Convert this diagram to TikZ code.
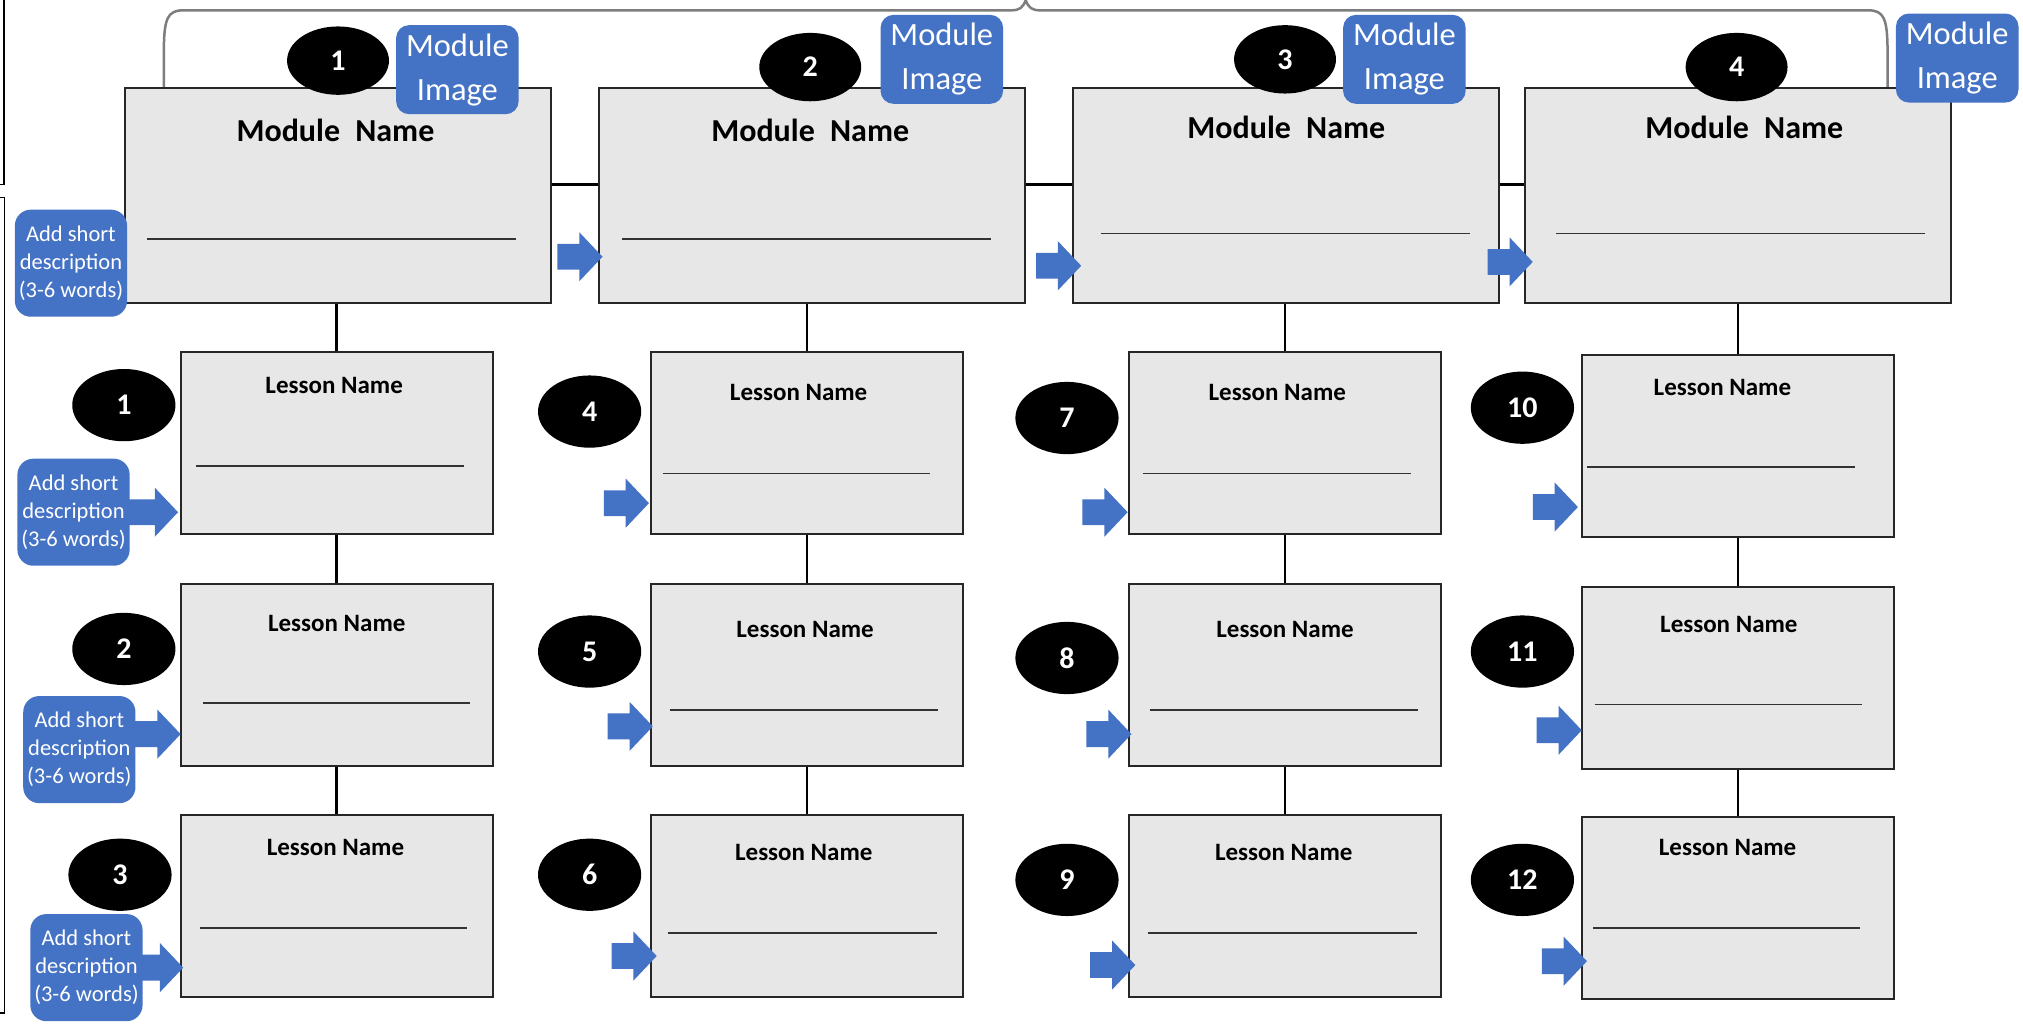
\documentclass[tikz,border=0pt]{standalone}
\usepackage{fontspec}
\setmainfont{Carlito}
\usetikzlibrary{shapes.geometric,calc}
\definecolor{officeblue}{RGB}{68,114,196}
\definecolor{boxgray}{RGB}{231,231,231}
\definecolor{bracegray}{RGB}{125,125,125}
\def\unitpx{1.29pt}
\tikzset{
  modbox/.style={rectangle, draw=black!85, line width=2pt, fill=boxgray, minimum width=330*\unitpx, minimum height=167*\unitpx, inner sep=0pt},
  lesbox/.style={modbox, minimum width=242*\unitpx, minimum height=141*\unitpx},
  numell/.style={ellipse, fill=black, text=white, font=\fontsize{30}{36}\selectfont\bfseries, minimum width=79*\unitpx, minimum height=53*\unitpx, inner sep=0pt},
  lesell/.style={numell, minimum width=80*\unitpx, minimum height=56*\unitpx},
  imgbox/.style={rectangle, rounded corners=13pt, fill=officeblue, text=white, font=\fontsize{32.5}{44}\selectfont, align=center, minimum width=95*\unitpx, minimum height=69*\unitpx, inner sep=0pt},
  descbox/.style={rectangle, rounded corners=16pt, fill=officeblue, text=white, font=\fontsize{22.5}{28}\selectfont, align=center, minimum width=87*\unitpx, minimum height=83*\unitpx, inner sep=0pt},
  modtitle/.style={font=\fontsize{32}{38}\selectfont\bfseries, inner sep=0pt},
  lestitle/.style={font=\fontsize{25}{30}\selectfont\bfseries, inner sep=0pt},
  conn/.style={line width=2.5pt, black},
  uline/.style={line width=1.8pt, black!80},
  framel/.style={line width=1.6pt, black},
  bracestyle/.style={line width=2.5pt, bracegray},
  pics/barrow/.style={code={\fill[officeblue] (-#1,-10) -- (-18,-10) -- (-18,-19) -- (0,0) -- (-18,19) -- (-18,10) -- (-#1,10) -- cycle;}},
  pics/barrow/.default=35,
}
\newcommand{\modname}{Module\hspace{0.25em} Name}
\begin{document}
\begin{tikzpicture}[x=\unitpx,y=-\unitpx]
\useasboundingbox (0,0) rectangle (1568,793);

% frame lines at left edge
\draw[framel] (-2,143) -- (3,143) -- (3,-5);
\draw[framel] (-2,153) -- (3.5,153) -- (3.5,785) -- (-2,785);

% brace over the modules
\draw[bracestyle] (127,68) -- (127,40) .. controls (127,14) and (130,8) .. (142,8) -- (784,8) .. controls (790,8) and (793,6) .. (795,0) .. controls (797,6) and (800,8) .. (806,8) -- (1448,8) .. controls (1460,8) and (1463,14) .. (1463,40) -- (1463,68);

% module boxes
\node[modbox] (m1) at (262,151.5) {};
\node[modbox] (m2) at (629.5,151.5) {};
\node[modbox] (m3) at (996.5,151.5) {};
\node[modbox] (m4) at (1347,151.5) {};

% lesson boxes
\node[lesbox] (l1) at (261,343.5) {};
\node[lesbox] (l2) at (261,523.5) {};
\node[lesbox] (l3) at (261,702.5) {};
\node[lesbox] (l4) at (625.5,343.5) {};
\node[lesbox] (l5) at (625.5,523.5) {};
\node[lesbox] (l6) at (625.5,702.5) {};
\node[lesbox] (l7) at (996,343.5) {};
\node[lesbox] (l8) at (996,523.5) {};
\node[lesbox] (l9) at (996,702.5) {};
\node[lesbox] (l10) at (1347,345.5) {};
\node[lesbox] (l11) at (1347,525.5) {};
\node[lesbox] (l12) at (1347,704) {};

% connectors
\draw[conn] ($(m1.east)+(0,-8.5)$) -- ($(m2.west)+(0,-8.5)$);
\draw[conn] ($(m2.east)+(0,-8.5)$) -- ($(m3.west)+(0,-8.5)$);
\draw[conn] ($(m3.east)+(0,-8.5)$) -- ($(m4.west)+(0,-8.5)$);
\draw[conn] (l1.north) -- (l1.north |- m1.south);
\draw[conn] (l1.south) -- (l2.north);
\draw[conn] (l2.south) -- (l3.north);
\draw[conn] (l4.north) -- (l4.north |- m2.south);
\draw[conn] (l4.south) -- (l5.north);
\draw[conn] (l5.south) -- (l6.north);
\draw[conn] (l7.north) -- (l7.north |- m3.south);
\draw[conn] (l7.south) -- (l8.north);
\draw[conn] (l8.south) -- (l9.north);
\draw[conn] (l10.north) -- (l10.north |- m4.south);
\draw[conn] (l10.south) -- (l11.north);
\draw[conn] (l11.south) -- (l12.north);

% titles
\node[modtitle] (t1) at (260,101) {\modname};
\node[modtitle] (t2) at (628,101) {\modname};
\node[modtitle] (t3) at (997,99) {\modname};
\node[modtitle] (t4) at (1352,99) {\modname};
\node[lestitle] (s1) at (259,299) {Lesson Name};
\node[lestitle] (s2) at (261,483) {Lesson Name};
\node[lestitle] (s3) at (260,657) {Lesson Name};
\node[lestitle] (s4) at (619,304) {Lesson Name};
\node[lestitle] (s5) at (624,488) {Lesson Name};
\node[lestitle] (s6) at (623,661) {Lesson Name};
\node[lestitle] (s7) at (990,304) {Lesson Name};
\node[lestitle] (s8) at (996,488) {Lesson Name};
\node[lestitle] (s9) at (995,661) {Lesson Name};
\node[lestitle] (s10) at (1335,300) {Lesson Name};
\node[lestitle] (s11) at (1340,484) {Lesson Name};
\node[lestitle] (s12) at (1339,657) {Lesson Name};

% blank lines
\draw[uline] (114,185) -- (400,185);
\draw[uline] (482,185) -- (768,185);
\draw[uline] (853,181) -- (1139,181);
\draw[uline] (1206,181) -- (1492,181);
\draw[uline] (152,361) -- (360,361);
\draw[uline] (157,545) -- (364,545);
\draw[uline] (155,719) -- (362,719);
\draw[uline] (514,367) -- (721,367);
\draw[uline] (519,550) -- (727,550);
\draw[uline] (518,723) -- (726,723);
\draw[uline] (886,367) -- (1094,367);
\draw[uline] (891,550) -- (1099,550);
\draw[uline] (890,723) -- (1098,723);
\draw[uline] (1230,362) -- (1438,362);
\draw[uline] (1236,546) -- (1443,546);
\draw[uline] (1235,719) -- (1442,719);

% number ellipses
\node[numell] (e1) at (262,47) {1};
\node[numell] (e2) at (628,52) {2};
\node[numell] (e3) at (996,46) {3};
\node[numell] (e4) at (1346,52) {4};
\node[lesell] (n1) at (96,314) {1};
\node[lesell] (n2) at (96,503) {2};
\node[lesell] (n3) at (93,678) {3};
\node[lesell] (n4) at (457,319) {4};
\node[lesell] (n5) at (457,505) {5};
\node[lesell] (n6) at (457,678) {6};
\node[lesell] (n7) at (827,324) {7};
\node[lesell] (n8) at (827,510) {8};
\node[lesell] (n9) at (827,682) {9};
\node[lesell] (n10) at (1180,316) {10};
\node[lesell] (n11) at (1180,505) {11};
\node[lesell] (n12) at (1180,682) {12};

% module image boxes
\node[imgbox] (i1) at (354.5,54) {Module\\Image};
\node[imgbox] (i2) at (730,46) {Module\\Image};
\node[imgbox] (i3) at (1088.5,46) {Module\\Image};
\node[imgbox] (i4) at (1517,45) {Module\\Image};

% block arrows
\pic at (467,199) {barrow};
\pic at (838,206) {barrow};
\pic at (1188,203) {barrow};
\pic at (138,397) {barrow=42};
\pic at (140,569) {barrow=40};
\pic at (142,750) {barrow=36};
\pic at (503,390) {barrow};
\pic at (506,563) {barrow};
\pic at (509,741) {barrow};
\pic at (874,397) {barrow};
\pic at (877,569) {barrow};
\pic at (880,748) {barrow};
\pic at (1223,393) {barrow};
\pic at (1226,566) {barrow};
\pic at (1230,745) {barrow};

% description boxes
\node[descbox] (d0) at (55,204) {Add short\\description\\(3-6 words)};
\node[descbox] (d1) at (57,397) {Add short\\description\\(3-6 words)};
\node[descbox] (d2) at (61.5,581) {Add short\\description\\(3-6 words)};
\node[descbox] (d3) at (67,750) {Add short\\description\\(3-6 words)};
\end{tikzpicture}
\end{document}
